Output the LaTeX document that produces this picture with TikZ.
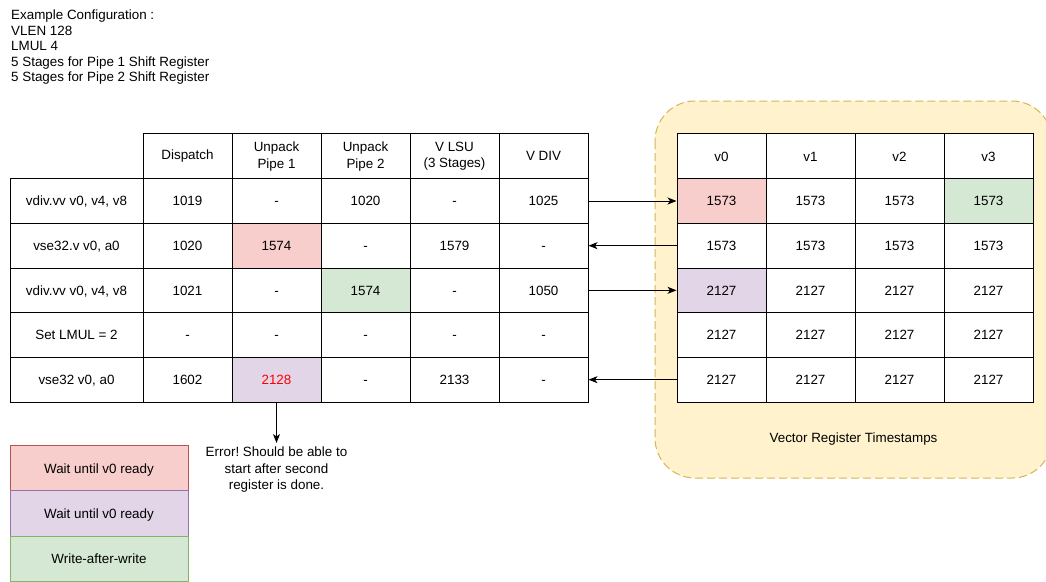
\documentclass[tikz,border=0pt]{standalone}
\usepackage{fontspec}
\setmainfont{Liberation Sans}
\usetikzlibrary{arrows.meta}

\definecolor{redfill}{HTML}{F8CECC}
\definecolor{redline}{HTML}{B85450}
\definecolor{purplefill}{HTML}{E1D5E7}
\definecolor{purpleline}{HTML}{9673A6}
\definecolor{greenfill}{HTML}{D5E8D4}
\definecolor{greenline}{HTML}{82B366}
\definecolor{yellowfill}{HTML}{FFF2CC}
\definecolor{yellowline}{HTML}{D6B656}
\definecolor{errred}{HTML}{FF0000}

\newcommand{\diagfont}{\fontsize{13.4}{16.5}\selectfont}
\frenchspacing

\begin{document}
\begin{tikzpicture}[x=1pt,y=-1pt,
  boxbase/.style={draw=black, line width=1pt, minimum width=89pt, minimum height=44.67pt,
               inner sep=0pt, font=\diagfont, text=black},
  cell/.style={boxbase, text height=9.6pt, text depth=0pt},
  headcell/.style={boxbase, align=center},
  wide/.style={minimum width=133pt},
  legendbox/.style={line width=1pt, minimum width=178pt, minimum height=45.3pt,
                    inner sep=0pt, font=\diagfont, text=black, text height=9.6pt, text depth=0pt},
  panel/.style={draw=yellowline, fill=yellowfill, line width=1pt,
                dash pattern=on 8pt off 4pt, rounded corners=40pt},
  link/.style={line width=1pt, -{Stealth[length=9pt,width=7pt,inset=2.5pt]}},
  plain/.style={inner sep=0pt, font=\diagfont, text=black}]

\useasboundingbox (0,0) rectangle (1046,581);
\fill[white] (0,0) rectangle (1046,581);

% configuration notes
\node[plain, anchor=north west, align=left, font=\fontsize{13.4}{15.5}\selectfont] (cfg) at (11,10)
  {Example Configuration :\\VLEN 128\\LMUL 4\\5 Stages for Pipe 1 Shift Register\\5 Stages for Pipe 2 Shift Register};

% register timestamp panel (runs past the right edge)
\begin{scope}
  \clip (0,0) rectangle (1046,581);
  \draw[panel] (655,101) rectangle (1052,478);
\end{scope}
\node[plain] (rtitle) at (853.5,439.3) {Vector Register Timestamps};

% ---------- instruction pipeline table ----------
% header
\node[headcell] (LH1) at (187.5,156.33) {Dispatch};
\node[headcell] (LH2) at (276.5,156.33) {Unpack\\Pipe 1};
\node[headcell] (LH3) at (365.5,156.33) {Unpack\\Pipe 2};
\node[headcell] (LH4) at (454.5,156.33) {V LSU\\(3 Stages)};
\node[headcell] (LH5) at (543.5,156.33) {V DIV};
% row 1
\node[cell, wide] (L10) at (76.5,201) {vdiv.vv v0, v4, v8};
\node[cell] (L11) at (187.5,201) {1019};
\node[cell] (L12) at (276.5,201) {-};
\node[cell] (L13) at (365.5,201) {1020};
\node[cell] (L14) at (454.5,201) {-};
\node[cell] (L15) at (543.5,201) {1025};
% row 2
\node[cell, wide] (L20) at (76.5,245.67) {vse32.v v0, a0};
\node[cell] (L21) at (187.5,245.67) {1020};
\node[cell, fill=redfill] (L22) at (276.5,245.67) {1574};
\node[cell] (L23) at (365.5,245.67) {-};
\node[cell] (L24) at (454.5,245.67) {1579};
\node[cell] (L25) at (543.5,245.67) {-};
% row 3
\node[cell, wide] (L30) at (76.5,290.33) {vdiv.vv v0, v4, v8};
\node[cell] (L31) at (187.5,290.33) {1021};
\node[cell] (L32) at (276.5,290.33) {-};
\node[cell, fill=greenfill] (L33) at (365.5,290.33) {1574};
\node[cell] (L34) at (454.5,290.33) {-};
\node[cell] (L35) at (543.5,290.33) {1050};
% row 4
\node[cell, wide] (L40) at (76.5,335) {Set LMUL = 2};
\node[cell] (L41) at (187.5,335) {-};
\node[cell] (L42) at (276.5,335) {-};
\node[cell] (L43) at (365.5,335) {-};
\node[cell] (L44) at (454.5,335) {-};
\node[cell] (L45) at (543.5,335) {-};
% row 5
\node[cell, wide] (L50) at (76.5,379.67) {vse32 v0, a0};
\node[cell] (L51) at (187.5,379.67) {1602};
\node[cell, fill=purplefill, text=errred] (L52) at (276.5,379.67) {2128};
\node[cell] (L53) at (365.5,379.67) {-};
\node[cell] (L54) at (454.5,379.67) {2133};
\node[cell] (L55) at (543.5,379.67) {-};

% ---------- vector register table ----------
\node[cell, fill=white] (RH0) at (721.5,156.33) {v0};
\node[cell, fill=white] (RH1) at (810.5,156.33) {v1};
\node[cell, fill=white] (RH2) at (899.5,156.33) {v2};
\node[cell, fill=white] (RH3) at (988.5,156.33) {v3};

\node[cell, fill=redfill]   (R10) at (721.5,201) {1573};
\node[cell, fill=white]     (R11) at (810.5,201) {1573};
\node[cell, fill=white]     (R12) at (899.5,201) {1573};
\node[cell, fill=greenfill] (R13) at (988.5,201) {1573};

\node[cell, fill=white] (R20) at (721.5,245.67) {1573};
\node[cell, fill=white] (R21) at (810.5,245.67) {1573};
\node[cell, fill=white] (R22) at (899.5,245.67) {1573};
\node[cell, fill=white] (R23) at (988.5,245.67) {1573};

\node[cell, fill=purplefill] (R30) at (721.5,290.33) {2127};
\node[cell, fill=white]      (R31) at (810.5,290.33) {2127};
\node[cell, fill=white]      (R32) at (899.5,290.33) {2127};
\node[cell, fill=white]      (R33) at (988.5,290.33) {2127};

\node[cell, fill=white] (R40) at (721.5,335) {2127};
\node[cell, fill=white] (R41) at (810.5,335) {2127};
\node[cell, fill=white] (R42) at (899.5,335) {2127};
\node[cell, fill=white] (R43) at (988.5,335) {2127};

\node[cell, fill=white] (R50) at (721.5,379.67) {2127};
\node[cell, fill=white] (R51) at (810.5,379.67) {2127};
\node[cell, fill=white] (R52) at (899.5,379.67) {2127};
\node[cell, fill=white] (R53) at (988.5,379.67) {2127};

% links between the tables
\draw[link] (L15.east) -- (R10.west);
\draw[link] (R20.west) -- (L25.east);
\draw[link] (L35.east) -- (R30.west);
\draw[link] (R50.west) -- (L55.east);

% error note
\node[plain, anchor=north, align=center] (err) at (276.5,447)
  {Error! Should be able to\\start after second\\register is done.};
\draw[link, shorten >=4pt] (L52.south) -- (err.north);

% legend
\node[legendbox, fill=redfill, draw=redline] (K1) at (99,468.3) {Wait until v0 ready};
\node[legendbox, fill=purplefill, draw=purpleline] (K2) at (99,513.6) {Wait until v0 ready};
\node[legendbox, fill=greenfill, draw=greenline] (K3) at (99,558.9) {Write-after-write};

\end{tikzpicture}
\end{document}
